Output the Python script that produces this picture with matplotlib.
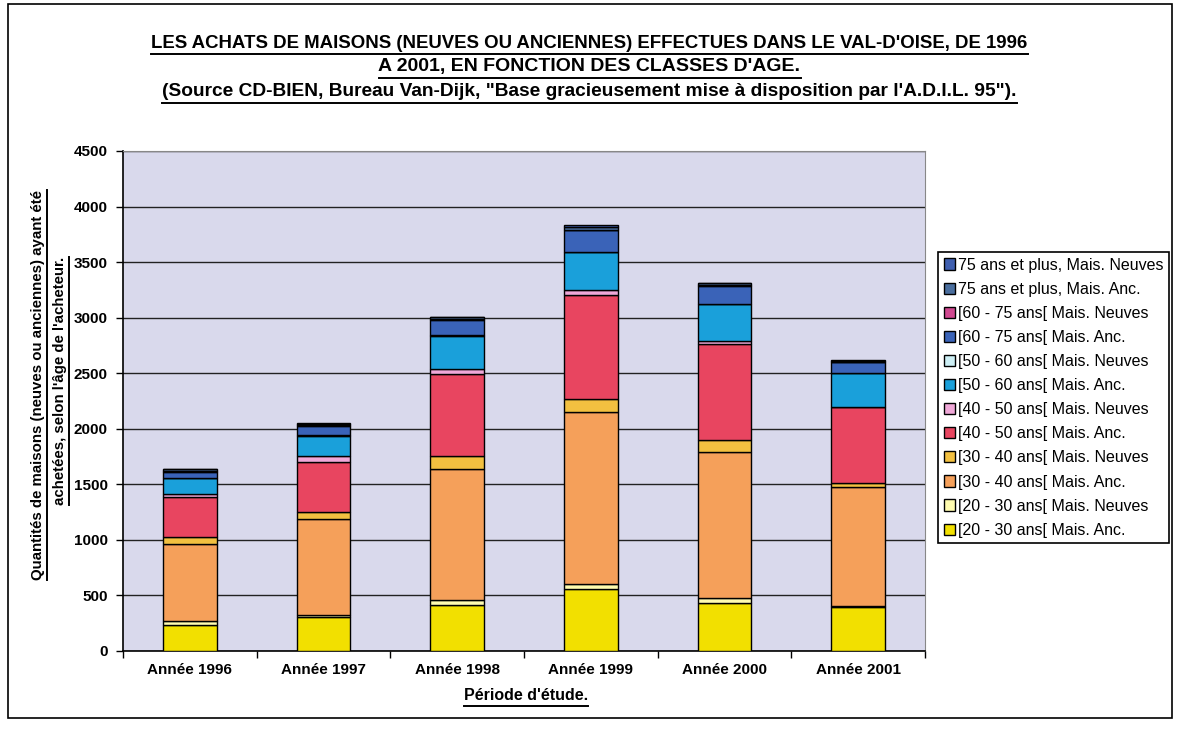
import matplotlib.pyplot as plt
import numpy as np
from matplotlib.lines import Line2D
from matplotlib.patches import Rectangle

plt.rcParams['font.family'] = ['Liberation Sans', 'DejaVu Sans']

# Years on the x axis
years = ["Année 1996", "Année 1997", "Année 1998", "Année 1999", "Année 2000", "Année 2001"]

# Stacked series, bottom to top
anc_20_30 = [234, 303, 414, 558, 435, 399]
neu_20_30 = [36, 22, 45, 45, 45, 5]
anc_30_40 = [690, 860, 1176, 1551, 1308, 1069]
neu_30_40 = [65, 70, 120, 114, 111, 36]
anc_40_50 = [360, 450, 738, 937, 861, 684]
neu_40_50 = [30, 50, 45, 45, 30, 5]
anc_50_60 = [140, 180, 300, 340, 330, 306]
neu_50_60 = [5, 5, 5, 5, 5, 0]
anc_60_75 = [55, 85, 136, 190, 160, 100]
neu_60_75 = [5, 5, 5, 5, 5, 0]
anc_75 = [15, 15, 20, 30, 20, 10]
neu_75 = [5, 5, 5, 10, 5, 5]

series = [anc_20_30, neu_20_30, anc_30_40, neu_30_40, anc_40_50, neu_40_50,
          anc_50_60, neu_50_60, anc_60_75, neu_60_75, anc_75, neu_75]
labels = ["[20 - 30 ans[ Mais. Anc.", "[20 - 30 ans[ Mais. Neuves",
          "[30 - 40 ans[ Mais. Anc.", "[30 - 40 ans[ Mais. Neuves",
          "[40 - 50 ans[ Mais. Anc.", "[40 - 50 ans[ Mais. Neuves",
          "[50 - 60 ans[ Mais. Anc.", "[50 - 60 ans[ Mais. Neuves",
          "[60 - 75 ans[ Mais. Anc.", "[60 - 75 ans[ Mais. Neuves",
          "75 ans et plus, Mais. Anc.", "75 ans et plus, Mais. Neuves"]
colors = ["#F2E000", "#FFFCB0", "#F5A05A", "#F2C040", "#E84560", "#F0A8D8",
          "#1AA0DA", "#CDEFF5", "#3A63B8", "#D04890", "#4A6E9E", "#3F5FB0"]

fig = plt.figure(figsize=(11.79, 7.31), dpi=100)
ax = fig.add_axes([123/1179, 80/731, 802/1179, 500/731])
ax.set_facecolor("#D9D9EC")

x = np.arange(len(years))
bottom = np.zeros(len(years))
handles = []
for vals, lab, col in zip(series, labels, colors):
    b = ax.bar(x, vals, width=0.4, bottom=bottom, color=col,
               edgecolor="black", linewidth=1.0, label=lab, zorder=3)
    handles.append(b)
    bottom += np.array(vals)

ax.set_xlim(-0.5, 5.5)
ax.set_ylim(0, 4500)
ax.set_yticks(np.arange(0, 4501, 500))
ax.yaxis.grid(True, color="#222222", linewidth=1.0, zorder=1)
ax.set_axisbelow(True)

ax.set_xticks(x)
ax.set_xticklabels(years, fontsize=11, fontweight="bold")
ax.set_xticks(np.arange(-0.5, 6, 1), minor=True)
ax.tick_params(axis="x", which="major", length=0, pad=9)
ax.tick_params(axis="x", which="minor", length=5, direction="out", width=1)
ax.tick_params(axis="y", length=5, direction="out", width=1, pad=6)
for t in ax.get_yticklabels():
    t.set_fontweight("bold")
    t.set_fontsize(11)

for s in ["left", "bottom"]:
    ax.spines[s].set_color("black")
    ax.spines[s].set_linewidth(1.2)
for s in ["top", "right"]:
    ax.spines[s].set_color("#888888")
    ax.spines[s].set_linewidth(0.8)

# legend, reversed like the original
leg = fig.legend(handles[::-1], labels[::-1], loc="upper left",
                 bbox_to_anchor=(938/1179, 1 - 252/731), fontsize=11.5,
                 frameon=True, fancybox=False, edgecolor="black", framealpha=1,
                 handlelength=0.7, handleheight=0.7, handletextpad=0.2,
                 labelspacing=0.57, borderpad=0.35, borderaxespad=0)
leg.get_frame().set_linewidth(1.2)

# titles
t1 = fig.text(0.5, 1 - 43/731, "LES ACHATS DE MAISONS (NEUVES OU ANCIENNES) EFFECTUES DANS LE VAL-D'OISE, DE 1996",
              ha="center", va="center", fontsize=13.4, fontweight="bold")
t2 = fig.text(0.5, 1 - 67/731, "A 2001, EN FONCTION DES CLASSES D'AGE.",
              ha="center", va="center", fontsize=14, fontweight="bold")
t3 = fig.text(0.5, 1 - 92/731, "(Source CD-BIEN, Bureau Van-Dijk, \"Base gracieusement mise à disposition par l'A.D.I.L. 95\").",
              ha="center", va="center", fontsize=13.8, fontweight="bold")
xl = fig.text(526/1179, 1 - 696/731, "Période d'étude.", ha="center", va="center",
              fontsize=11.5, fontweight="bold")
yl1 = fig.text(38/1179, 1 - 385/731, "Quantités de maisons (neuves ou anciennes) ayant été",
               ha="center", va="center", rotation=90, fontsize=10.8, fontweight="bold")
yl2 = fig.text(60/1179, 1 - 381/731, "achetées, selon l'âge de l'acheteur.",
               ha="center", va="center", rotation=90, fontsize=10.8, fontweight="bold")

# underline the texts
fig.canvas.draw()
r = fig.canvas.get_renderer()
W, H = fig.get_size_inches() * fig.dpi
for t in [t1, t2, t3, xl]:
    bb = t.get_window_extent(r)
    y = (bb.y0 - 2) / H
    fig.add_artist(Line2D([bb.x0 / W, bb.x1 / W], [y, y], color="black", lw=1.4))
for t in [yl1, yl2]:
    bb = t.get_window_extent(r)
    xx = (bb.x1 + 2) / W
    fig.add_artist(Line2D([xx, xx], [bb.y0 / H, bb.y1 / H], color="black", lw=1.4))

# outer chart frame
fig.add_artist(Rectangle((8/1179, 1 - 718/731), 1164/1179, 714/731, transform=fig.transFigure,
                         fill=False, edgecolor="black", linewidth=1.2))

plt.savefig("out.png", dpi=100)
plt.close()
